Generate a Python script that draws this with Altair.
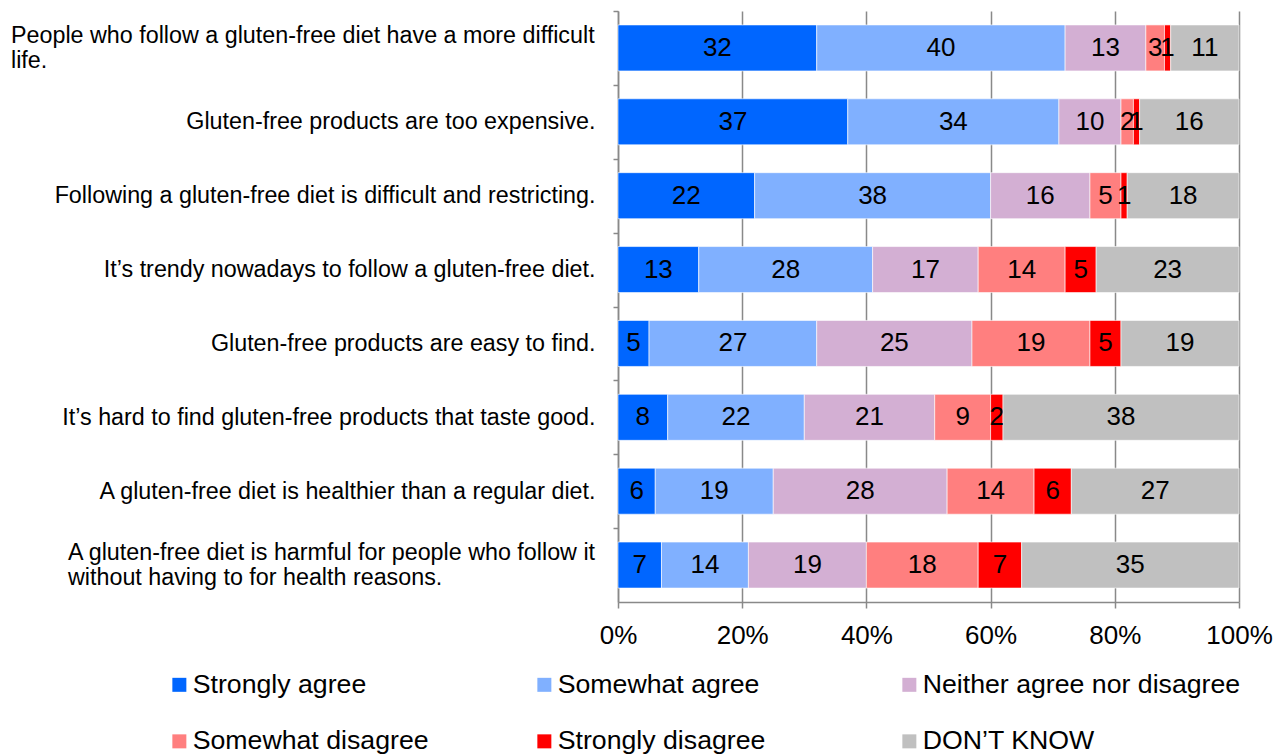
import altair as alt
import pandas as pd

questions = [
    "People who follow a gluten-free diet have a more difficult|life.",
    "Gluten-free products are too expensive.",
    "Following a gluten-free diet is difficult and restricting.",
    "It’s trendy nowadays to follow a gluten-free diet.",
    "Gluten-free products are easy to find.",
    "It’s hard to find gluten-free products that taste good.",
    "A gluten-free diet is healthier than a regular diet.",
    "A gluten-free diet is harmful for people who follow it|without having to for health reasons.",
]
responses = [
    "Strongly agree",
    "Somewhat agree",
    "Neither agree nor disagree",
    "Somewhat disagree",
    "Strongly disagree",
    "DON’T KNOW",
]
strongly_agree = [32, 37, 22, 13, 5, 8, 6, 7]
somewhat_agree = [40, 34, 38, 28, 27, 22, 19, 14]
neither = [13, 10, 16, 17, 25, 21, 28, 19]
somewhat_disagree = [3, 2, 5, 14, 19, 9, 14, 18]
strongly_disagree = [1, 1, 1, 5, 5, 2, 6, 7]
dont_know = [11, 16, 18, 23, 19, 38, 27, 35]
colors = ["#0066FF", "#80B0FF", "#D3AFD3", "#FF7F7F", "#FF0000", "#C0C0C0"]
x_ticks = [0, 20, 40, 60, 80, 100]

series = [strongly_agree, somewhat_agree, neither, somewhat_disagree, strongly_disagree, dont_know]
rows = []
for qi, q in enumerate(questions):
    for ri, r in enumerate(responses):
        rows.append({"question": q, "response": r, "rank": ri, "pct": series[ri][qi]})
df = pd.DataFrame(rows)
qdf = pd.DataFrame({"question": questions})

FONT = "Liberation Sans"
GRAY = "#898989"
CAT_SIZE = 23.3
PLOT_H = 591
HALF_STEP = PLOT_H / len(questions) / 2

y_enc = alt.Y(
    "question:N",
    sort=questions,
    scale=alt.Scale(paddingInner=0.377, paddingOuter=0.1885),
    axis=alt.Axis(
        title=None,
        labelExpr="indexof(datum.value, '|') >= 0 ? '' : datum.label",
        labelFontSize=CAT_SIZE,
        labelColor="black",
        labelFont=FONT,
        labelLimit=800,
        labelPadding=18,
        tickOffset=-HALF_STEP,
        labelOffset=HALF_STEP,
        tickSize=5,
        tickColor=GRAY,
        tickWidth=1.5,
        domainColor=GRAY,
        domainWidth=1.5,
        grid=False,
    ),
)

base = (
    alt.Chart(df)
    .transform_window(
        cum="sum(pct)",
        groupby=["question"],
        sort=[alt.SortField(field="rank", order="ascending")],
        frame=[None, 0],
    )
    .transform_calculate(start="datum.cum - datum.pct", mid="datum.cum - datum.pct / 2")
)

bars = base.mark_bar(stroke="white", strokeOpacity=0.6, strokeWidth=1).encode(
    y=y_enc,
    x=alt.X(
        "start:Q",
        scale=alt.Scale(domain=[0, 100], nice=False),
        axis=alt.Axis(
            values=x_ticks,
            labelExpr="datum.value + '%'",
            title=None,
            grid=True,
            gridColor=GRAY,
            gridWidth=1.5,
            domainColor=GRAY,
            domainWidth=1.5,
            tickColor=GRAY,
            tickWidth=1.5,
            tickSize=6,
            labelFontSize=26,
            labelFont=FONT,
            labelColor="black",
            labelPadding=14,
            labelFlush=False,
        ),
    ),
    x2="cum:Q",
    color=alt.Color(
        "response:N",
        scale=alt.Scale(domain=responses, range=colors),
        legend=alt.Legend(
            title=None,
            orient="none",
            legendX=-452,
            legendY=660,
            direction="horizontal",
            columns=3,
            gridAlign="all",
            columnPadding=20,
            rowPadding=29,
            symbolType="square",
            symbolSize=196,
            symbolStrokeWidth=0,
            labelFontSize=26.7,
            labelFont=FONT,
            labelColor="black",
            labelOffset=0,
            padding=0,
            labelLimit=600,
        ),
    ),
)

values_text = base.mark_text(fontSize=26, font=FONT, color="black", baseline="middle").encode(
    y=y_enc,
    x=alt.X("mid:Q"),
    text=alt.Text("pct:Q"),
)

wrapped_style = dict(
    align="left", baseline="middle", lineBreak="|", lineHeight=25,
    fontSize=CAT_SIZE, font=FONT, color="black", dy=-12,
)
label_people = (
    alt.Chart(qdf)
    .transform_filter("indexof(datum.question, 'People') == 0")
    .mark_text(**wrapped_style)
    .encode(y=y_enc, x=alt.value(-607), text="question:N")
)
label_harmful = (
    alt.Chart(qdf)
    .transform_filter("indexof(datum.question, 'harmful') >= 0")
    .mark_text(**wrapped_style)
    .encode(y=y_enc, x=alt.value(-550), text="question:N")
)

chart = (
    alt.layer(bars, values_text, label_people, label_harmful)
    .properties(width=621, height=PLOT_H, padding={"left": 11, "top": 10, "right": 5, "bottom": 0})
    .configure_view(stroke=None)
)

chart.save("out.html", embed_options={"renderer": "svg", "actions": False})
